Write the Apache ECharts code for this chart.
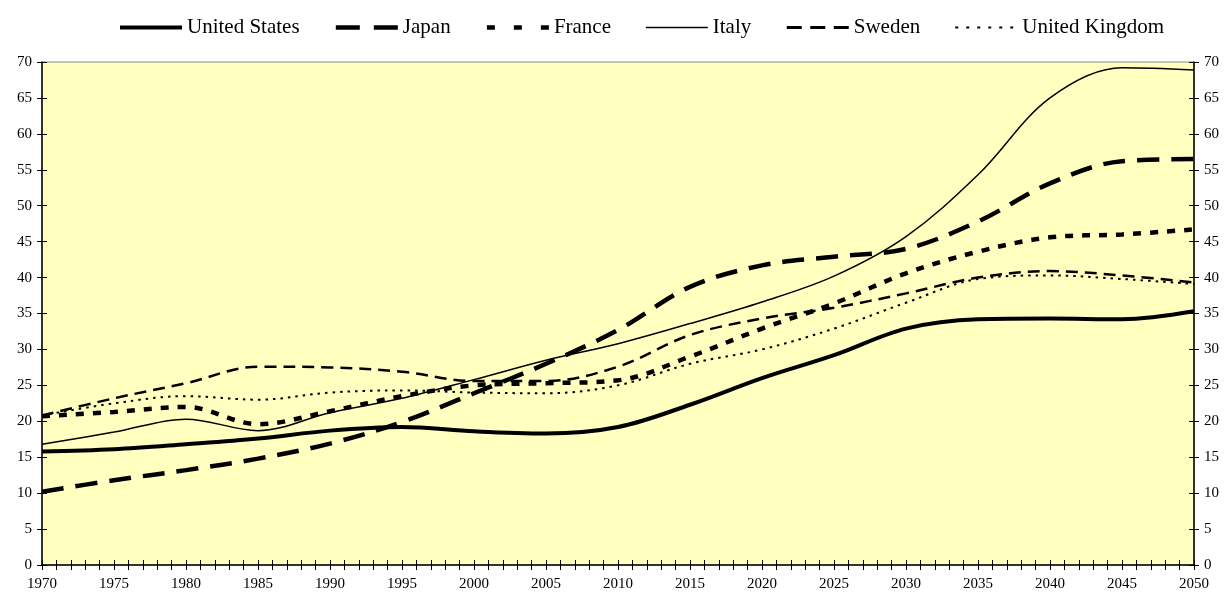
<!DOCTYPE html>
<html>
<head>
<meta charset="utf-8">
<script src="https://cdn.jsdelivr.net/npm/echarts@6/dist/echarts.min.js"></script>
<style>
html,body{margin:0;padding:0;background:#fff;}
#chart{width:1224px;height:597px;}
</style>
</head>
<body>
<div id="chart"></div>
<script>
var years = [1970,1975,1980,1985,1990,1995,2000,2005,2010,2015,2020,2025,2030,2035,2040,2045,2050];
var unitedStates = [15.8,16.1,16.8,17.6,18.7,19.2,18.6,18.3,19.2,22.3,26.0,29.2,32.9,34.2,34.3,34.2,35.3];
var japan = [10.2,11.8,13.2,14.8,16.9,19.9,23.9,28.0,32.7,38.7,41.7,42.9,44.0,47.8,53.1,56.2,56.5];
var france = [20.7,21.3,22.0,19.6,21.4,23.5,25.0,25.3,25.7,29.0,32.9,36.4,40.6,43.6,45.6,46.0,46.7];
var italy = [16.8,18.5,20.3,18.7,21.2,23.2,25.8,28.5,30.8,33.6,36.6,40.2,45.7,54.3,65.0,69.2,68.9];
var sweden = [20.8,23.2,25.3,27.6,27.5,26.9,25.6,25.6,27.6,32.0,34.3,35.8,37.8,40.0,40.9,40.3,39.3];
var unitedKingdom = [20.8,22.5,23.5,23.0,24.0,24.3,24.0,23.9,25.0,28.0,30.0,32.9,36.5,39.8,40.3,39.8,39.1];
var seriesNames = ['United States','Japan','France','Italy','Sweden','United Kingdom'];
var yTicks = {min:0, max:70, interval:5};

function pairs(vals){ return years.map(function(y,i){ return [y, vals[i]]; }); }

var FONT = '"Liberation Serif","Times New Roman",serif';
var styles = [
  {width:4, type:'solid'},
  {width:4.5, type:[22,12]},
  {width:4.5, type:[8,9]},
  {width:1.5, type:'solid'},
  {width:2.5, type:[12,7]},
  {width:2, type:[2.5,5]}
];
var legendStyles = [
  {width:4, type:'solid'},
  {width:4.5, type:[24,14]},
  {width:4.5, type:[8,19]},
  {width:1.5, type:'solid'},
  {width:3, type:[15,8.5]},
  {width:2, type:[3,8]}
];
var allData = [unitedStates, japan, france, italy, sweden, unitedKingdom];

var chart = echarts.init(document.getElementById('chart'), null, {renderer:'canvas'});
var xBase = {type:'value', min:1970, max:2050, interval:1, gridIndex:0, splitLine:{show:false}};
var yBase = {type:'value', min:yTicks.min, max:yTicks.max, interval:yTicks.interval, splitLine:{show:false}};

chart.setOption({
  animation:false,
  backgroundColor:'#ffffff',
  grid:{left:42, right:30, top:62, bottom:32, show:true, backgroundColor:'#FFFFC0', borderColor:'#8c8c8c', borderWidth:1},
  legend:{
    top:12, left:113, itemWidth:62, itemHeight:14, itemGap:34,
    itemStyle:{opacity:0},
    textStyle:{fontFamily:FONT, fontSize:21, color:'#000'},
    data:seriesNames.map(function(n, i){
      return {name:n, lineStyle:{color:'#000', width:legendStyles[i].width, type:legendStyles[i].type, cap:'butt'}};
    })
  },
  xAxis:[
    Object.assign({}, xBase, {position:'bottom',
      axisLine:{show:true, lineStyle:{color:'#000', width:1.5}},
      axisTick:{show:true, inside:false, length:5, lineStyle:{color:'#000', width:1}},
      axisLabel:{show:true, margin:12, fontFamily:FONT, fontSize:15, color:'#000',
        formatter:function(v){ return (v % 5 === 0) ? String(v) : ''; }}
    }),
    Object.assign({}, xBase, {position:'bottom',
      axisLine:{show:false},
      axisTick:{show:true, inside:true, length:5, lineStyle:{color:'#000', width:1}},
      axisLabel:{show:false}
    })
  ],
  yAxis:[
    Object.assign({}, yBase, {position:'left',
      axisLine:{show:true, lineStyle:{color:'#000', width:1.5}},
      axisTick:{show:true, inside:false, length:5, lineStyle:{color:'#000'}},
      axisLabel:{margin:10, fontFamily:FONT, fontSize:15, color:'#000'}
    }),
    Object.assign({}, yBase, {position:'right',
      axisLine:{show:true, lineStyle:{color:'#000', width:1.5}},
      axisTick:{show:true, inside:false, length:5, lineStyle:{color:'#000'}},
      axisLabel:{margin:10, fontFamily:FONT, fontSize:15, color:'#000'}
    }),
    Object.assign({}, yBase, {position:'left',
      axisLine:{show:false}, axisTick:{show:true, inside:true, length:5, lineStyle:{color:'#000'}}, axisLabel:{show:false}
    }),
    Object.assign({}, yBase, {position:'right',
      axisLine:{show:false}, axisTick:{show:true, inside:true, length:5, lineStyle:{color:'#000'}}, axisLabel:{show:false}
    })
  ],
  series: seriesNames.map(function(name, i){
    return {
      name:name, type:'line', xAxisIndex:0, yAxisIndex:0,
      data:pairs(allData[i]), smooth:0.35, symbol:'none', showSymbol:false,
      color:'#000',
      lineStyle:{color:'#000', width:styles[i].width, type:styles[i].type, cap:'butt'},
      z: 10 - i
    };
  })
});
</script>
</body>
</html>
